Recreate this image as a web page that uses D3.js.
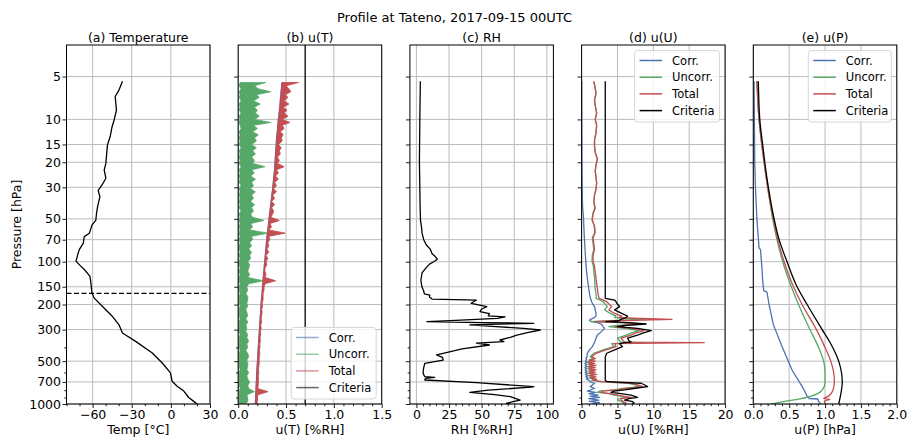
<!DOCTYPE html>
<html>
<head>
<meta charset="utf-8">
<script src="https://cdn.jsdelivr.net/npm/d3@7/dist/d3.min.js"></script>
<style>
html,body{margin:0;padding:0;background:#fff;}
svg{display:block;}
text{font-family:"DejaVu Sans",sans-serif;fill:#000;}
</style>
</head>
<body>
<svg id="chart" width="909" height="442"></svg>
<script>
// ---------------- text ----------------
const chartTitle = "Profile at Tateno, 2017-09-15 00UTC";
const panelTitles = ["(a) Temperature", "(b) u(T)", "(c) RH", "(d) u(U)", "(e) u(P)"];
const xLabels = ["Temp [°C]", "u(T) [%RH]", "RH [%RH]", "u(U) [%RH]", "u(P) [hPa]"];
const yLabel = "Pressure [hPa]";
const legendLabels = ["Corr.", "Uncorr.", "Total", "Criteria"];

// ---------------- axes ----------------
const pressureDomain = [3, 1000];
const yTicks = [5, 10, 15, 20, 30, 50, 70, 100, 150, 200, 300, 500, 700, 1000];
const yTickLabels = ["5", "10", "15", "20", "30", "50", "70", "100", "150", "200", "300", "500", "700", "1000"];
const yMinorTicks = [400, 600, 800, 900];

const xDomains = [[-80, 30], [0, 1.5], [-5, 105], [0, 20], [0, 2]];
const xTicks = [[-60, -30, 0, 30], [0, 0.5, 1, 1.5], [0, 25, 50, 75, 100], [0, 5, 10, 15, 20], [0, 0.5, 1, 1.5, 2]];
const xTickLabels = [["−60", "−30", "0", "30"], ["0.0", "0.5", "1.0", "1.5"], ["0", "25", "50", "75", "100"], ["0", "5", "10", "15", "20"], ["0.0", "0.5", "1.0", "1.5", "2.0"]];
const xMinorTicks = [
  [-80, -70, -50, -40, -20, -10, 10, 20],
  [0.1, 0.2, 0.3, 0.4, 0.6, 0.7, 0.8, 0.9, 1.1, 1.2, 1.3, 1.4],
  [5, 10, 15, 20, 30, 35, 40, 45, 55, 60, 65, 70, 80, 85, 90, 95],
  [1, 2, 3, 4, 6, 7, 8, 9, 11, 12, 13, 14, 16, 17, 18, 19],
  [0.1, 0.2, 0.3, 0.4, 0.6, 0.7, 0.8, 0.9, 1.1, 1.2, 1.3, 1.4, 1.6, 1.7, 1.8, 1.9]
];

// ---------------- (a) temperature ----------------
const pTemp = [5.4, 6.2, 6.9, 8.6, 10.1, 11.5, 13.2, 15.1, 20.3, 22.7, 25.9, 29, 31.5, 35, 41.2, 45.7, 51, 55.3, 63.1, 66.6, 74, 82.3, 89.2, 99.5, 104.8, 116.8, 126.7, 141.2, 166.2, 180.4, 206.6, 243, 278, 317, 363, 438, 515, 605, 693, 750, 811, 900, 978, 1000];
const temp = [-37.1, -39.7, -42.7, -41.7, -43.5, -45.3, -46.5, -48.6, -49.8, -51.1, -49.8, -52.9, -55.7, -54.4, -56.2, -57, -57.5, -60.5, -62.5, -66.4, -67.1, -70.2, -71.4, -72.7, -70.2, -65.1, -62, -61.3, -60.5, -58.7, -52.4, -44.7, -39.7, -37.1, -27, -14.2, -6.6, -0.3, 1.0, 4.8, 9.9, 13.7, 18.8, 20];
const tropopause = 167;

// ---------------- (b) u(T) ----------------
const pUT = [5.5, 5.8, 6.1, 6.4, 6.7, 7.0, 7.4, 7.8, 8.2, 8.6,
  9.0, 9.5, 10, 10.5, 11, 11.6, 12.2, 12.8, 13.5, 14.2,
  15, 15.8, 16.6, 17.5, 18.4, 19.4, 20.4, 21.5, 22.6, 23.8,
  25, 26.3, 27.7, 29.2, 30.7, 32.3, 34, 35.8, 37.7, 39.7,
  41.8, 44, 46.3, 48.7, 51.3, 54, 56.8, 59.8, 63, 66.3,
  69.8, 73.5, 77.4, 81.5, 85.8, 90.3, 95, 100, 105, 111,
  117, 123, 129, 136, 143, 151, 159, 167, 176, 185,
  195, 205, 216, 227, 239, 252, 265, 279, 294, 309,
  325, 342, 360, 379, 399, 420, 442, 465, 490, 516,
  543, 572, 602, 634, 667, 702, 739, 778, 819, 862,
  907, 955, 1000];
const uTCorr = [0.458, 0.455, 0.452, 0.449, 0.447, 0.444, 0.441, 0.438, 0.435, 0.432,
  0.429, 0.425, 0.420, 0.418, 0.415, 0.412, 0.409, 0.406, 0.403, 0.400,
  0.398, 0.396, 0.393, 0.391, 0.389, 0.387, 0.385, 0.383, 0.380, 0.377,
  0.374, 0.371, 0.368, 0.364, 0.361, 0.357, 0.353, 0.349, 0.345, 0.341,
  0.337, 0.333, 0.329, 0.325, 0.322, 0.318, 0.314, 0.310, 0.306, 0.302,
  0.299, 0.296, 0.293, 0.290, 0.287, 0.284, 0.281, 0.278, 0.275, 0.272,
  0.269, 0.266, 0.263, 0.260, 0.258, 0.255, 0.253, 0.250, 0.247, 0.244,
  0.241, 0.239, 0.237, 0.235, 0.232, 0.230, 0.228, 0.226, 0.224, 0.222,
  0.219, 0.217, 0.215, 0.213, 0.211, 0.209, 0.207, 0.205, 0.203, 0.201,
  0.199, 0.197, 0.195, 0.193, 0.192, 0.190, 0.189, 0.187, 0.186, 0.184,
  0.183, 0.181, 0.180];
const uTUncLow = [0.02, 0.01, 0.03, 0.01, 0.02, 0.01, 0.03, 0.01, 0.02, 0.01,
  0.03, 0.01, 0.02, 0.01, 0.02, 0.03, 0.01, 0.02, 0.01, 0.02,
  0.01, 0.03, 0.01, 0.02, 0.01, 0.02, 0.01, 0.03, 0.01, 0.02,
  0.01, 0.02, 0.01, 0.03, 0.01, 0.02, 0.01, 0.02, 0.01, 0.02,
  0.01, 0.03, 0.01, 0.02, 0.01, 0.02, 0.01, 0.02, 0.01, 0.02,
  0.01, 0.02, 0.01, 0.01, 0.02, 0.01, 0.02, 0.01, 0.01, 0.02,
  0.01, 0.02, 0.01, 0.01, 0.02, 0.01, 0.01, 0.02, 0.01, 0.01,
  0.01, 0.02, 0.01, 0.01, 0.01, 0.02, 0.01, 0.01, 0.01, 0.01,
  0.02, 0.01, 0.01, 0.01, 0.01, 0.02, 0.01, 0.01, 0.01, 0.01,
  0.01, 0.02, 0.01, 0.01, 0.01, 0.01, 0.01, 0.02, 0.01, 0.01,
  0.01, 0.01, 0.01];
const uTUncHigh = [0.29, 0.17, 0.21, 0.34, 0.19, 0.22, 0.16, 0.23, 0.17, 0.20,
  0.18, 0.22, 0.17, 0.34, 0.16, 0.20, 0.15, 0.21, 0.17, 0.19,
  0.14, 0.19, 0.15, 0.18, 0.14, 0.17, 0.15, 0.28, 0.14, 0.17,
  0.13, 0.18, 0.14, 0.16, 0.13, 0.18, 0.14, 0.16, 0.13, 0.17,
  0.14, 0.16, 0.13, 0.15, 0.27, 0.13, 0.15, 0.12, 0.31, 0.14,
  0.15, 0.12, 0.14, 0.11, 0.14, 0.12, 0.13, 0.10, 0.12, 0.11,
  0.10, 0.12, 0.10, 0.26, 0.11, 0.09, 0.10, 0.08, 0.10, 0.10,
  0.09, 0.10, 0.08, 0.09, 0.10, 0.08, 0.10, 0.08, 0.09, 0.08,
  0.10, 0.09, 0.11, 0.09, 0.10, 0.08, 0.10, 0.11, 0.09, 0.10,
  0.10, 0.09, 0.11, 0.09, 0.10, 0.12, 0.10, 0.11, 0.17, 0.09,
  0.10, 0.10, 0.08];
const uTTotHigh = [0.63, 0.50, 0.53, 0.55, 0.49, 0.52, 0.48, 0.53, 0.47, 0.51,
  0.48, 0.52, 0.46, 0.54, 0.46, 0.48, 0.44, 0.47, 0.45, 0.46,
  0.42, 0.45, 0.43, 0.44, 0.41, 0.43, 0.41, 0.48, 0.40, 0.42,
  0.39, 0.42, 0.38, 0.40, 0.37, 0.40, 0.36, 0.38, 0.35, 0.38,
  0.35, 0.37, 0.36, 0.34, 0.43, 0.33, 0.35, 0.32, 0.49, 0.32,
  0.33, 0.31, 0.32, 0.30, 0.32, 0.29, 0.31, 0.29, 0.30, 0.28,
  0.28, 0.29, 0.28, 0.39, 0.28, 0.27, 0.27, 0.26, 0.26, 0.26,
  0.25, 0.255, 0.245, 0.25, 0.245, 0.24, 0.245, 0.235, 0.24, 0.232,
  0.235, 0.228, 0.232, 0.225, 0.228, 0.222, 0.226, 0.222, 0.218, 0.22,
  0.216, 0.212, 0.216, 0.21, 0.212, 0.21, 0.21, 0.204, 0.31, 0.205,
  0.202, 0.2, 0.198];
const uTCriteria = 0.7;

// ---------------- (c) RH ----------------
const pRH = [5.4, 10, 20, 30, 40, 51, 58, 63, 70, 76, 82, 88, 92, 96, 100, 104, 110, 120, 135, 150,
  160, 168, 172, 177, 183, 186, 196, 207, 215, 224, 232, 240, 244, 250, 258, 264, 268, 271, 278, 286,
  294, 302, 315, 328, 340, 355, 365, 374, 385, 410, 440, 452, 470, 491, 518, 560, 609, 643, 649, 660,
  678, 708, 755, 760, 800, 828, 860, 888, 938, 960, 989, 1000];
const rh = [3.0, 2.6, 2.3, 2.6, 2.8, 3.1, 4.0, 4.3, 5.6, 7.5, 10.7, 12, 14.5, 16, 13.3, 10, 7.5, 4.3, 3.4, 4.2,
  5.5, 6.1, 10.2, 10, 12, 46, 42, 54, 50, 48.7, 56, 55, 68, 62, 30, 8, 50, 90, 41, 61,
  82, 95, 85, 77, 72, 64, 67, 46, 56, 35, 20.5, 15.4, 20, 20.5, 6.4, 5.5, 5.1, 6.4, 14, 7,
  6.4, 46, 90, 88, 55, 41, 60, 72, 79.5, 75, 69, 72];

// ---------------- (d) u(U) ----------------
const pUU = [5.4, 6.0, 6.6, 7.3, 8.0, 9.0, 10, 11, 12.5, 14,
  15.5, 17, 19, 21, 23, 25.5, 28, 31, 34, 38,
  42, 46, 51, 56, 62, 68, 75, 82, 90, 99,
  108, 118, 130, 142, 155, 168, 178,
  181, 186, 191, 196, 207, 218, 231, 241, 247, 254,
  260, 264, 268, 274, 280, 286, 294, 305, 316, 328,
  345, 359, 367, 371, 377, 395, 417, 440, 465, 480,
  491, 500, 509, 518, 527, 536, 546, 556, 566, 576,
  587, 598, 609, 620, 632, 644, 656, 668, 680,
  697, 715, 735, 755, 775, 796, 812, 828, 845, 865, 880,
  898, 918, 938, 958, 980, 1000];
const uUCorr = [0.02, 0.02, 0.02, 0.02, 0.02, 0.03, 0.03, 0.03, 0.03, 0.04,
  0.04, 0.04, 0.05, 0.05, 0.06, 0.07, 0.08, 0.09, 0.1, 0.12,
  0.15, 0.22, 0.28, 0.31, 0.35, 0.39, 0.44, 0.48, 0.53, 0.58,
  0.63, 0.7, 0.8, 0.9, 1.0, 1.1, 1.2,
  1.25, 1.3, 1.4, 1.5, 1.8, 1.9, 2.0, 2.0, 1.8, 1.2,
  1.1, 1.5, 2.2, 2.7, 2.9, 3.0, 3.2, 2.9, 2.6, 2.2,
  2.0, 1.9, 1.8, 1.8, 1.7, 1.5, 1.1, 0.8, 0.75, 0.6,
  0.7, 0.5, 0.75, 0.45, 0.7, 0.5, 0.75, 0.45, 0.7, 0.5,
  0.75, 0.5, 0.8, 0.55, 0.85, 0.6, 0.9, 0.7, 1.0,
  1.2, 1.8, 1.5, 1.2, 1.8, 1.3, 0.8, 2.0, 1.0, 2.3, 1.2,
  2.5, 1.0, 2.4, 1.1, 2.5, 1.5];
const uUUnc = [1.7, 1.9, 2.0, 1.8, 1.9, 2.1, 1.9, 2.1, 2.0, 1.8,
  1.8, 1.9, 2.2, 2.0, 1.9, 2.0, 2.1, 2.0, 1.8, 1.7,
  1.85, 1.55, 1.45, 1.75, 1.85, 1.5, 1.6, 1.7, 1.5, 1.45,
  1.65, 1.7, 1.8, 1.85, 1.9, 2.0, 2.05,
  2.0, 2.6, 3.0, 3.2, 3.6, 3.2, 4.0, 4.8, 4.6, 9.0,
  4.0, 1.3, 5.5, 7.5, 5.0, 3.8, 6.0, 8.0, 7.0, 6.2,
  5.0, 5.3, 5.5, 9.0, 4.2, 4.5, 3.0, 1.7, 1.2, 1.6,
  1.0, 1.6, 0.8, 1.5, 0.9, 1.7, 0.8, 1.6, 0.9, 1.7,
  1.0, 1.6, 0.9, 1.8, 1.0, 1.7, 1.1, 1.8, 1.4,
  2.5, 6.5, 7.5, 8.0, 6.0, 4.5, 2.5, 2.2, 3.8, 4.5, 5.5,
  6.2, 5.2, 5.0, 5.5, 5.9, 5.7];
const uUTot = [1.7, 1.9, 2.0, 1.8, 1.9, 2.1, 1.9, 2.1, 2.0, 1.8,
  1.8, 1.9, 2.2, 2.0, 1.9, 2.0, 2.1, 2.0, 1.8, 1.7,
  1.9, 1.6, 1.5, 1.8, 1.9, 1.6, 1.7, 1.8, 1.6, 1.6,
  1.8, 1.9, 2.0, 2.1, 2.2, 2.3, 2.4,
  2.5, 3.0, 3.5, 3.7, 4.2, 3.8, 4.6, 5.6, 5.2, 12.6,
  4.6, 1.9, 6.2, 8.3, 5.8, 4.7, 6.9, 8.7, 7.6, 6.9,
  5.5, 5.8, 6.0, 17.1, 4.6, 4.8, 3.4, 2.0, 1.4, 1.9,
  1.1, 1.9, 0.9, 1.8, 1.0, 2.0, 0.9, 1.9, 1.0, 2.0,
  1.1, 1.9, 1.0, 2.1, 1.1, 2.0, 1.2, 2.1, 1.6,
  2.8, 7.0, 7.8, 8.5, 6.5, 5.0, 2.8, 2.7, 4.0, 5.0, 5.8,
  6.9, 5.5, 5.5, 5.8, 6.2, 6.0];
const uUCrit = [3.3, 3.3, 3.3, 3.3, 3.3, 3.3, 3.3, 3.3, 3.3, 3.3,
  3.3, 3.3, 3.3, 3.3, 3.3, 3.3, 3.3, 3.3, 3.3, 3.3,
  3.3, 3.3, 3.3, 3.3, 3.3, 3.3, 3.3, 3.3, 3.3, 3.3,
  3.3, 3.3, 3.3, 3.3, 3.3, 3.3, 3.3,
  3.3, 4.6, 4.8, 4.9, 5.3, 4.6, 5.6, 6.4, 6.2, 5.5,
  5.2, 3.4, 6.5, 9.0, 6.2, 5.0, 7.8, 9.7, 8.6, 7.8,
  6.4, 6.6, 6.9, 6.0, 5.3, 5.7, 4.6, 3.5, 3.3, 3.3,
  3.3, 3.3, 3.3, 3.3, 3.3, 3.3, 3.3, 3.3, 3.3, 3.3,
  3.3, 3.3, 3.3, 3.3, 3.3, 3.3, 3.3, 3.3, 3.3,
  3.6, 8.3, 8.8, 9.2, 7.5, 6.0, 4.5, 4.1, 5.5, 6.9, 7.3,
  7.8, 6.6, 6.0, 7.0, 7.3, 7.1];

// ---------------- (e) u(P) ----------------
const pUPCorr = [5.4, 10, 20, 30, 50, 80, 82, 110, 134, 160, 163, 200, 277, 395, 577, 751, 880, 915, 922, 960, 1000];
const uPCorr = [0.01, 0.015, 0.02, 0.03, 0.05, 0.08, 0.1, 0.12, 0.13, 0.145, 0.19, 0.22, 0.28, 0.4, 0.54, 0.68, 0.75, 0.78, 0.9, 0.91, 0.94];
const pUPUnc = [5.4, 10, 20, 30, 50, 70, 100, 150, 200, 300, 400, 500, 600, 710, 800, 848, 920, 960, 985, 1000];
const uPUnc = [0.05, 0.08, 0.15, 0.2, 0.27, 0.33, 0.41, 0.53, 0.63, 0.79, 0.91, 0.98, 1.0, 1.0, 0.96, 0.89, 0.65, 0.44, 0.32, 0.25];
const pUPTot = [5.4, 10, 20, 30, 50, 70, 100, 150, 200, 300, 400, 500, 600, 700, 800, 880, 915, 925, 955, 1000];
const uPTot = [0.05, 0.08, 0.15, 0.2, 0.28, 0.34, 0.43, 0.56, 0.68, 0.88, 1.0, 1.08, 1.12, 1.13, 1.11, 1.05, 0.98, 1.07, 0.99, 1.0];
const pUPCrit = [5.4, 10, 15, 20, 30, 50, 70, 100, 150, 200, 300, 370, 500, 700, 850, 1000];
const uPCrit = [0.07, 0.09, 0.13, 0.16, 0.21, 0.29, 0.36, 0.47, 0.61, 0.75, 0.96, 1.07, 1.19, 1.24, 1.22, 1.19];

// ---------------- styling ----------------
const COL = {corr: "#4C72B0", unc: "#55A868", tot: "#C44E52", crit: "#000000"};
const GRID = "#bcbcbc";
const FS = 12.5;
const TOP = 45, BOT = 404, PW = 143.5, STEP = 171.7, L0 = 66.5;

const svg = d3.select("#chart");
const y = d3.scaleLog().domain(pressureDomain).range([TOP, BOT]);
const xs = xDomains.map((dom, i) => d3.scaleLinear().domain(dom).range([L0 + i * STEP, L0 + i * STEP + PW]));
const defs = svg.append("defs");
const plots = [];

xs.forEach((x, i) => {
  const x0 = x.range()[0], x1 = x.range()[1];
  defs.append("clipPath").attr("id", "clip" + i)
    .append("rect").attr("x", x0).attr("y", TOP).attr("width", x1 - x0).attr("height", BOT - TOP);
  const g = svg.append("g");
  g.selectAll(".hg").data(yTicks).join("line")
    .attr("x1", x0).attr("x2", x1).attr("y1", d => y(d)).attr("y2", d => y(d))
    .attr("stroke", GRID).attr("stroke-width", 1);
  g.selectAll(".vg").data(xTicks[i]).join("line")
    .attr("x1", d => x(d)).attr("x2", d => x(d)).attr("y1", TOP).attr("y2", BOT)
    .attr("stroke", GRID).attr("stroke-width", 1);
  plots.push(svg.append("g").attr("clip-path", `url(#clip${i})`));

  svg.append("text").attr("x", (x0 + x1) / 2).attr("y", 41.5).attr("text-anchor", "middle")
    .attr("font-size", FS).text(panelTitles[i]);
  svg.append("text").attr("x", (x0 + x1) / 2).attr("y", 434).attr("text-anchor", "middle")
    .attr("font-size", FS).text(xLabels[i]);
});

const lineOf = (x, ps, vs, curve) => d3.line().curve(curve || d3.curveLinear)
  .x(d => x(d[1])).y(d => y(d[0]))(d3.zip(ps, vs));

// (a)
plots[0].append("path").attr("d", lineOf(xs[0], pTemp, temp)).attr("fill", "none")
  .attr("stroke", "#000").attr("stroke-width", 1.3).attr("stroke-linejoin", "round");
plots[0].append("line").attr("x1", xs[0].range()[0]).attr("x2", xs[0].range()[1])
  .attr("y1", y(tropopause)).attr("y2", y(tropopause))
  .attr("stroke", "#000").attr("stroke-width", 1.2).attr("stroke-dasharray", "5,2.5");

// (b)
{
  const x = xs[1], g = plots[1];
  const idx = d3.range(pUT.length);
  g.append("path").attr("d", lineOf(x, pUT, uTCorr)).attr("fill", "none")
    .attr("stroke", COL.corr).attr("stroke-width", 1.4);
  g.append("path").attr("d", d3.area().y(i => y(pUT[i])).x0(i => x(uTUncLow[i])).x1(i => x(uTUncHigh[i]))(idx))
    .attr("fill", COL.unc).attr("stroke", COL.unc).attr("stroke-width", 0.8).attr("stroke-linejoin", "round");
  g.append("path").attr("d", d3.area().y(i => y(pUT[i])).x0(i => x(uTCorr[i])).x1(i => x(uTTotHigh[i]))(idx))
    .attr("fill", COL.tot).attr("stroke", COL.tot).attr("stroke-width", 0.9).attr("stroke-linejoin", "round");
  g.append("line").attr("x1", x(uTCriteria)).attr("x2", x(uTCriteria))
    .attr("y1", y(pressureDomain[0])).attr("y2", y(pressureDomain[1]))
    .attr("stroke", COL.crit).attr("stroke-width", 1.3);
}

// (c)
plots[2].append("path").attr("d", lineOf(xs[2], pRH, rh)).attr("fill", "none")
  .attr("stroke", "#000").attr("stroke-width", 1.3).attr("stroke-linejoin", "round");

// (d)
[[uUCorr, COL.corr], [uUUnc, COL.unc], [uUTot, COL.tot], [uUCrit, COL.crit]].forEach(([vals, c]) => {
  plots[3].append("path").attr("d", lineOf(xs[3], pUU, vals)).attr("fill", "none")
    .attr("stroke", c).attr("stroke-width", 1.3).attr("stroke-linejoin", "round");
});

// (e)
plots[4].append("path").attr("d", lineOf(xs[4], pUPCorr, uPCorr)).attr("fill", "none")
  .attr("stroke", COL.corr).attr("stroke-width", 1.3);
[[pUPUnc, uPUnc, COL.unc], [pUPTot, uPTot, COL.tot], [pUPCrit, uPCrit, COL.crit]].forEach(([ps, vals, c]) => {
  plots[4].append("path").attr("d", lineOf(xs[4], ps, vals, d3.curveMonotoneY)).attr("fill", "none")
    .attr("stroke", c).attr("stroke-width", 1.3);
});

// axes, ticks and frames
xs.forEach((x, i) => {
  const x0 = x.range()[0], x1 = x.range()[1];
  const ax = svg.append("g").attr("transform", `translate(0,${BOT})`)
    .call(d3.axisBottom(x).tickValues(xTicks[i]).tickFormat((d, j) => xTickLabels[i][j]).tickSize(4).tickPadding(2));
  const axm = svg.append("g").attr("transform", `translate(0,${BOT})`)
    .call(d3.axisBottom(x).tickValues(xMinorTicks[i]).tickFormat("").tickSize(2.2));
  const ay = svg.append("g").attr("transform", `translate(${x0},0)`)
    .call(d3.axisLeft(y).tickValues(yTicks).tickFormat((d, j) => i === 0 ? yTickLabels[j] : "").tickSize(4).tickPadding(1.5));
  const aym = svg.append("g").attr("transform", `translate(${x0},0)`)
    .call(d3.axisLeft(y).tickValues(yMinorTicks).tickFormat("").tickSize(2.2));
  [ax, axm, ay, aym].forEach(a => {
    a.select(".domain").remove();
    a.attr("font-size", FS).attr("font-family", '"DejaVu Sans",sans-serif');
    a.selectAll("line").attr("stroke", "#000").attr("stroke-width", 0.9);
    a.selectAll("text").attr("fill", "#000");
  });
  svg.append("rect").attr("x", x0).attr("y", TOP).attr("width", x1 - x0).attr("height", BOT - TOP)
    .attr("fill", "none").attr("stroke", "#000").attr("stroke-width", 1);
});

// legends
function legend(i, top, boxW, boxH, handleOpacity) {
  const x1 = xs[i].range()[1];
  const bx = x1 - 5.5 - boxW;
  const g = svg.append("g");
  g.append("rect").attr("x", bx).attr("y", top).attr("width", boxW).attr("height", boxH)
    .attr("rx", 3).attr("fill", "#fff").attr("fill-opacity", 0.8).attr("stroke", "#d6d6d6").attr("stroke-width", 1);
  const cols = [COL.corr, COL.unc, COL.tot, COL.crit];
  legendLabels.forEach((lab, k) => {
    const cy = top + 10 + k * 16.7;
    g.append("line").attr("x1", bx + 5).attr("x2", bx + 27.5).attr("y1", cy).attr("y2", cy)
      .attr("stroke", cols[k]).attr("stroke-width", 1.5).attr("stroke-opacity", handleOpacity);
    g.append("text").attr("x", bx + 37.5).attr("y", cy).attr("dy", "0.36em").attr("font-size", 11.5).text(lab);
  });
}
legend(1, 327.5, 85, 71.5, 0.6);
legend(3, 50.5, 85, 71.5, 1);
legend(4, 50.5, 83, 71.5, 1);

// overall title and y label
svg.append("text").attr("x", 454.5).attr("y", 21.5).attr("text-anchor", "middle").attr("font-size", 13).text(chartTitle);
svg.append("text").attr("transform", "translate(21,224.5) rotate(-90)").attr("text-anchor", "middle")
  .attr("font-size", FS).text(yLabel);
</script>
</body>
</html>
